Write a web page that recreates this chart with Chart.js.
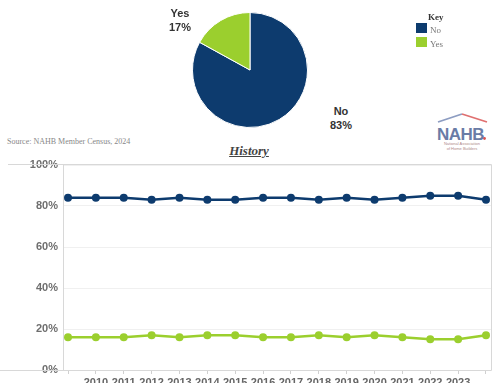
<!DOCTYPE html>
<html>
<head>
<meta charset="utf-8">
<script src="https://cdn.jsdelivr.net/npm/chart.js@4/dist/chart.umd.min.js"></script>
<style>
	body { margin: 0; width: 500px; height: 383px; overflow: hidden; background: #fff; position: relative; }
	.abs { position: absolute; }
	.pie-label { font: bold 11px Arial, "Liberation Sans", sans-serif; line-height: 14px; color: #333; text-align: center; width: 40px; }
	.key { font: 9px "Liberation Serif", serif; color: #777; }
	.swatch { width: 11px; height: 10px; }
	.logo-main { font: bold 17px "Liberation Sans", Arial, sans-serif; letter-spacing: -0.5px; }
	.logo-sub { font: 4px "Liberation Sans", Arial, sans-serif; }
</style>
</head>
<body>
<canvas id="pie-chart" class="abs" style="left:192px;top:12px;" width="116" height="116"></canvas>
<div class="abs pie-label" style="left:160px;top:6px;">Yes<br>17%</div>
<div class="abs pie-label" style="left:321px;top:104px;">No<br>83%</div>

<div class="abs key" style="left:428px;top:12px;font-weight:bold;color:#333;">Key</div>
<div class="abs swatch" style="left:416px;top:23px;background:#0d3b6e;"></div>
<div class="abs key" style="left:430px;top:25px;">No</div>
<div class="abs swatch" style="left:416px;top:37px;background:#9bcf2e;"></div>
<div class="abs key" style="left:430px;top:39px;">Yes</div>

<div class="abs" style="left:7px;top:137px;font:8px 'Liberation Serif',serif;color:#888;">Source: NAHB Member Census, 2024</div>
<div class="abs" style="left:200px;width:98px;top:143px;text-align:center;font:italic bold 13px 'Liberation Serif',serif;color:#444;text-decoration:underline;">History</div>

<svg class="abs" style="left:436px;top:112px;" width="56" height="40">
	<polyline points="2,10 26,2" stroke="#8d9dc2" stroke-width="1.8" fill="none"/>
	<polyline points="26,2 51,10" stroke="#e07070" stroke-width="1.8" fill="none"/>
	<text x="1" y="28" class="logo-main" fill="#6a7ca6">NAHB</text>
	<circle cx="48.5" cy="26.5" r="1.4" fill="#d9534f"/>
	<text x="26" y="33" class="logo-sub" fill="#b08a8a" text-anchor="middle">National Association</text>
	<text x="26" y="38" class="logo-sub" fill="#b08a8a" text-anchor="middle">of Home Builders</text>
</svg>

<canvas id="history-chart" class="abs" style="left:0;top:150px;" width="500" height="233"></canvas>

<script>
// Member share by year, percent
const years = [ '2009', '2010', '2011', '2012', '2013', '2014', '2015', '2016', '2017', '2018', '2019', '2020', '2021', '2022', '2023', '2024' ];
const noShare = [ 84, 84, 84, 83, 84, 83, 83, 84, 84, 83, 84, 83, 84, 85, 85, 83 ];
const yesShare = [ 16, 16, 16, 17, 16, 17, 17, 16, 16, 17, 16, 17, 16, 15, 15, 17 ];
const yTicks = [ 0, 20, 40, 60, 80, 100 ];

const pieLabels = [ 'No', 'Yes' ];
const pieValues = [ 83, 17 ];

const NAVY = '#0d3b6e';
const LIME = '#9bcf2e';

new Chart( document.getElementById( 'pie-chart' ), {
	type: 'pie',
	data: {
		labels: pieLabels,
		datasets: [
			{
				data: pieValues,
				backgroundColor: [ NAVY, LIME ],
				borderColor: '#fff',
				borderWidth: 1,
			},
		],
	},
	options: {
		responsive: false,
		animation: false,
		layout: { padding: 0 },
		plugins: { legend: { display: false }, tooltip: { enabled: false } },
	},
} );

// outer frame lines of the history panel
const framePlugin = {
	id: 'frame',
	afterDraw( chart ) {
		const { ctx, chartArea } = chart;
		ctx.save();
		ctx.strokeStyle = '#d8d8d8';
		ctx.lineWidth = 1;
		ctx.beginPath();
		ctx.moveTo( 8, chartArea.top - 0.5 );
		ctx.lineTo( chartArea.right + 0.5, chartArea.top - 0.5 );
		ctx.lineTo( chartArea.right + 0.5, chartArea.bottom + 0.5 );
		ctx.lineTo( 0, chartArea.bottom + 0.5 );
		ctx.stroke();
		ctx.restore();
	},
};

const toPoints = ( arr ) => arr.map( ( v, i ) => ( { x: i, y: v } ) );

new Chart( document.getElementById( 'history-chart' ), {
	type: 'line',
	data: {
		datasets: [
			{
				label: 'No',
				data: toPoints( noShare ),
				borderColor: NAVY,
				backgroundColor: NAVY,
				borderWidth: 2.5,
				pointRadius: 4,
				pointBorderWidth: 0,
				tension: 0,
			},
			{
				label: 'Yes',
				data: toPoints( yesShare ),
				borderColor: LIME,
				backgroundColor: LIME,
				borderWidth: 2.5,
				pointRadius: 4,
				pointBorderWidth: 0,
				tension: 0,
			},
		],
	},
	options: {
		responsive: false,
		animation: false,
		layout: { padding: { left: 0, right: 9, top: 15, bottom: 0 } },
		plugins: { legend: { display: false }, tooltip: { enabled: false } },
		scales: {
			x: {
				type: 'linear',
				min: -0.18,
				max: years.length - 1 + 0.18,
				afterFit: ( scale ) => {
					scale.height = 13;
					scale.paddingLeft = 0;
					scale.paddingRight = 0;
				},
				grid: { drawOnChartArea: false, drawTicks: true, tickLength: 4, color: '#d0d0d0' },
				border: { display: false },
				ticks: {
					stepSize: 1,
					includeBounds: false,
					autoSkip: false,
					maxRotation: 0,
					padding: 2,
					color: '#666',
					font: { family: 'Arial', size: 11, weight: 'bold' },
					callback: ( v ) => ( v === 0 || v === years.length - 1 ? '' : years[ v ] ),
				},
			},
			y: {
				min: 0,
				max: 100,
				afterFit: ( scale ) => {
					scale.width = 63;
					scale.paddingTop = 0;
					scale.paddingBottom = 0;
				},
				afterBuildTicks: ( scale ) => {
					scale.ticks = yTicks.map( ( value ) => ( { value } ) );
				},
				grid: { color: '#f0f0f0', drawTicks: false },
				border: { color: '#d8d8d8' },
				ticks: {
					padding: 5,
					color: '#6e6e6e',
					font: { family: 'Arial', size: 11, weight: 'bold' },
					callback: ( v ) => v + '%',
				},
			},
		},
	},
	plugins: [ framePlugin ],
} );
</script>
</body>
</html>
